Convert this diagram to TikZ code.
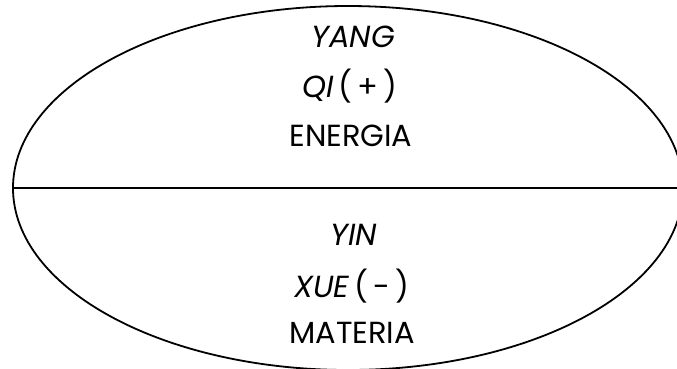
\documentclass[tikz,border=0pt]{standalone}
\usepackage{fontspec}
\setmainfont{Poppins}
\usetikzlibrary{shapes.geometric}
\begin{document}
\begin{tikzpicture}[x=1pt,y=-1pt,
  outline/.style={draw, line width=1.8pt, ellipse, inner sep=0pt, minimum width=670pt, minimum height=364pt},
  lbl/.style={font=\fontsize{30.5}{34}\selectfont, inner sep=0pt, anchor=base}]
\useasboundingbox (0,0) rectangle (677,368);
\node[outline] (e) at (348,188) {};
\draw[line width=1.8pt] (e.west) -- (e.east);
\node[lbl] (yang) at (353,47) {\itshape YANG};
\node[lbl] (qi) at (350,97) {\textit{QI}\,(\,+\,)};
\node[lbl] (energia) at (351,146) {ENERGIA};
\node[lbl] (yin) at (354,245) {\itshape YIN};
\node[lbl] (xue) at (352,297) {\textit{XUE}\,(\,-\,)};
\node[lbl] (materia) at (352,343) {MATERIA};
\end{tikzpicture}
\end{document}
